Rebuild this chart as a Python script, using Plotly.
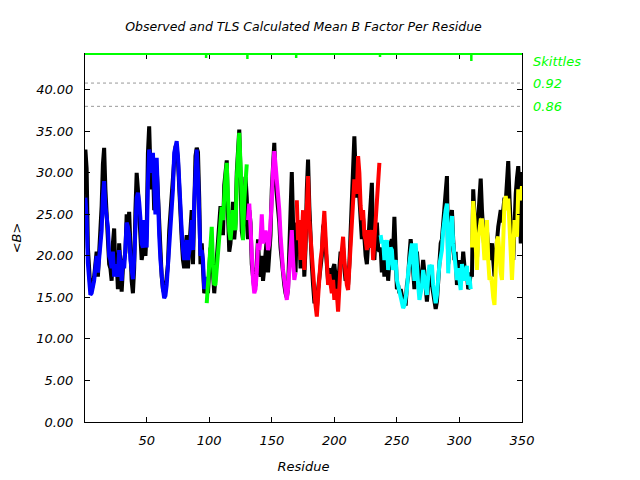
import plotly.graph_objects as go

# ---------------- data ----------------
residues = list(range(1, 351))

observed_b = [
    32.8, 30.5, 21.0, 17.5, 16.0, 15.8, 16.5, 17.5, 19.0, 20.5,
    17.5, 20.0, 22.5, 26.0, 31.0, 33.0, 28.0, 25.0, 22.0, 19.0,
    18.5, 17.0, 21.5, 23.3, 18.0, 19.5, 16.0, 21.5, 19.0, 15.7,
    18.5, 19.5, 20.5, 25.0, 23.0, 25.3, 20.0, 17.0, 15.5, 18.5,
    25.5, 30.0, 28.0, 24.5, 22.5, 19.5, 20.5, 23.5, 20.0, 23.0,
    32.4, 35.6, 30.4, 28.0, 31.0, 25.5, 26.5, 30.5, 27.5, 23.5,
    20.0, 17.5, 16.0, 15.5, 16.0, 17.5, 19.0, 23.0, 25.5, 28.0,
    30.0, 31.5, 33.0, 33.0, 31.5, 27.5, 26.0, 22.0, 19.5, 18.5,
    21.0, 22.5, 18.5, 21.0, 24.0, 25.5, 19.0, 27.5, 32.0, 33.0,
    32.5, 27.0, 19.0, 21.5, 18.5, 15.5, 16.0, 16.5, 15.5, 18.0,
    21.0, 20.5, 17.5, 15.5, 17.5, 20.0, 21.5, 25.0, 26.0, 24.5,
    22.5, 28.5, 30.5, 31.5, 25.0, 20.5, 21.5, 23.5, 26.5, 22.0,
    24.0, 30.0, 33.5, 35.2, 30.0, 23.0, 22.0, 27.5, 29.5, 27.0,
    22.0, 25.5, 24.0, 19.0, 16.5, 16.0, 16.5, 19.0, 22.0, 18.5,
    17.5, 20.0, 17.0, 18.5, 20.5, 22.0, 18.0, 20.5, 22.5, 28.0,
    31.0, 33.6, 29.0, 27.5, 26.0, 24.0, 21.0, 19.0, 17.0, 16.5,
    15.5, 15.0, 16.0, 22.0, 27.5, 30.1, 24.0, 19.5, 18.0, 24.0,
    20.5, 23.0, 18.5, 21.0, 24.0, 17.5, 21.0, 28.0, 31.6, 26.0,
    21.5, 19.0, 16.5, 14.5, 14.5, 13.5, 16.0, 17.5, 18.5, 20.0,
    23.5, 24.0, 21.0, 18.0, 17.0, 18.5, 17.0, 16.5, 18.5, 19.0,
    17.5, 16.0, 16.5, 18.5, 20.5, 19.5, 21.0, 18.5, 17.0, 17.5,
    16.5, 19.0, 23.0, 29.0, 32.8, 34.4, 30.0, 27.0, 29.5, 27.5,
    24.0, 22.0, 24.5, 21.5, 20.0, 19.0, 22.0, 24.5, 26.5, 28.8,
    22.0, 19.5, 22.5, 24.0, 21.0, 20.5, 21.0, 18.0, 20.5, 17.5,
    19.5, 21.0, 17.0, 20.0, 21.5, 22.0, 20.5, 24.7, 18.0, 16.0,
    16.5, 15.5, 16.0, 15.0, 14.5, 15.0, 14.0, 16.5, 17.5, 20.0,
    22.0, 20.5, 18.0, 16.0, 19.0, 20.5, 18.5, 15.5, 16.0, 17.5,
    19.5, 18.0, 15.5, 14.5, 16.5, 18.0, 17.5, 16.5, 15.0, 14.0,
    13.6, 14.5, 17.0, 19.5, 21.5, 22.0, 24.0, 27.0, 28.5, 29.6,
    19.0, 20.5, 24.5, 25.5, 22.0, 19.5, 20.5, 16.5, 17.5, 19.5,
    17.0, 18.0, 20.5, 19.0, 17.0, 18.0, 16.0, 16.5, 18.0, 17.5,
    28.0, 25.0, 22.0, 19.5, 24.5, 27.0, 29.3, 25.5, 22.0, 20.5,
    21.0, 23.0, 21.0, 19.5, 20.5, 21.5, 19.5, 17.5, 20.0, 22.5,
    23.5, 24.5, 25.5, 24.0, 26.5, 27.0, 26.5, 29.0, 31.4, 27.0,
    23.5, 20.5, 19.5, 25.0, 27.5, 29.4, 30.8, 27.5, 21.5, 30.0,
]

# TLS segments (first residue of each segment)
segment_starts = [1, 98, 131, 170, 237, 310]
segment_colors = ["#0000ff", "#00ff00", "#ff00ff", "#ff0000", "#00ffff", "#ffff00"]

tls_blue = [
    27.0, 24.5, 19.1, 16.0, 15.3, 15.5, 16.2, 17.0, 18.5, 20.0,
    18.0, 19.5, 21.5, 23.0, 27.0, 29.0, 26.0, 24.5, 23.5, 20.0,
    19.5, 18.5, 20.5, 17.5, 19.0, 18.3, 17.5, 20.7, 18.0, 17.0,
    19.5, 18.5, 21.0, 24.0, 23.5, 22.5, 19.5, 18.0, 17.2, 19.5,
    24.5, 27.0, 27.6, 26.5, 24.5, 21.5, 21.0, 24.3, 22.0, 21.0,
    29.0, 32.8, 31.5, 30.0, 32.4, 28.5, 25.0, 31.8, 26.0, 22.5,
    19.5, 17.0, 16.0, 14.9, 15.2, 16.5, 18.7, 21.5, 24.0, 26.5,
    28.0, 32.4, 33.5, 33.8, 32.0, 28.0, 25.0, 23.0, 20.7, 19.5,
    20.5, 21.9, 19.5, 20.3, 21.5, 24.3, 20.7, 26.5, 31.0, 32.8,
    30.0, 24.3, 20.0, 20.7, 19.5, 16.0, 17.5,
]
tls_green = [
    14.3, 16.5, 19.5, 22.5, 23.5, 19.0, 16.5, 16.6, 18.5, 20.5,
    22.5, 24.0, 25.9, 24.3, 27.9, 29.5, 31.2, 26.7, 23.0, 21.9,
    24.3, 25.5, 24.0, 23.1, 29.2, 32.4, 34.8, 31.0, 25.0, 21.9,
    26.7, 28.5, 31.0,
]
tls_magenta = [
    24.3, 26.3, 23.5, 19.5, 17.1, 15.5, 16.0, 18.0, 21.5, 20.7,
    22.0, 25.0, 21.5, 22.5, 23.0, 22.5, 20.7, 21.5, 23.5, 26.7,
    30.4, 32.6, 31.0, 29.5, 28.0, 25.5, 22.5, 20.0, 18.3, 17.1,
    15.5, 14.7, 16.0, 18.3, 21.0, 23.1, 19.5, 17.1, 18.0,
]
tls_red = [
    26.7, 21.9, 24.3, 19.5, 22.5, 25.5, 18.3, 22.0, 26.7, 29.6,
    24.3, 22.0, 20.7, 17.1, 14.9, 14.0, 12.7, 15.0, 18.0, 19.5,
    20.7, 24.3, 25.4, 22.3, 19.5, 16.5, 17.8, 16.0, 15.5, 17.1,
    14.7, 16.0, 15.5, 13.3, 17.1, 19.0, 20.7, 22.3, 19.5, 17.8,
    16.5, 15.9, 18.3, 21.5, 24.3, 27.1, 29.2, 28.0, 27.5, 32.0,
    30.0, 26.0, 24.3, 25.5, 22.5, 21.9, 20.7, 23.1, 21.0, 21.9,
    23.1, 19.5, 21.9, 25.0, 26.7, 27.9, 31.2,
]
tls_cyan = [
    22.5, 21.5, 21.9, 19.5, 20.5, 21.9, 18.3, 20.5, 21.0, 20.7,
    18.3, 19.0, 19.5, 17.1, 16.5, 15.9, 15.0, 14.3, 13.7, 14.0,
    14.7, 15.9, 18.0, 19.5, 20.7, 21.5, 19.5, 17.0, 21.5, 18.3,
    16.5, 14.7, 15.5, 16.3, 18.3, 17.5, 16.5, 15.3, 17.5, 18.9,
    18.5, 18.9, 16.5, 15.0, 14.3, 15.3, 17.5, 19.0, 19.8, 20.7,
    23.1, 25.0, 25.5, 26.3, 17.9, 21.5, 23.5, 24.8, 21.5, 20.0,
    19.5, 17.1, 18.5, 17.5, 15.9, 19.0, 17.5, 17.0, 18.0, 18.8,
    16.5, 17.5, 16.0,
]
tls_yellow = [
    21.0, 26.6, 24.3, 21.0, 18.3, 21.9, 23.5, 24.3, 24.3, 20.7,
    19.5, 22.0, 24.3, 19.5, 17.1, 17.5, 16.7, 15.0, 14.1, 18.3,
    21.9, 22.3, 19.5, 18.0, 17.1, 24.3, 26.5, 27.2, 25.5, 26.9,
    23.5, 21.5, 17.1, 20.5, 24.3, 23.5, 22.3, 28.0, 27.5, 26.7,
    28.4,
]
tls_segments = [tls_blue, tls_green, tls_magenta, tls_red, tls_cyan, tls_yellow]

skittle_levels = [40.8, 38.0]
skittle_labels = ["0.92", "0.86"]
skittle_title_level = 43.4

x_ticks = [50, 100, 150, 200, 250, 300, 350]
y_ticks = [0, 5, 10, 15, 20, 25, 30, 35, 40]

# ---------------- figure ----------------
FONT = "DejaVu Sans"
# the page body has an 8px default margin, so the figure is 8px smaller
W, H = 632, 472
fig = go.Figure()

fig.add_trace(go.Scatter(x=residues, y=observed_b, mode="lines",
                         line=dict(color="#000000", width=4),
                         showlegend=False, hoverinfo="skip"))

for start, vals, col in zip(segment_starts, tls_segments, segment_colors):
    xs = list(range(start, start + len(vals)))
    fig.add_trace(go.Scatter(x=xs, y=vals, mode="lines",
                             line=dict(color=col, width=4),
                             showlegend=False, hoverinfo="skip"))

shapes = []
for lvl in skittle_levels:
    shapes.append(dict(type="line", xref="paper", yref="y", x0=0, x1=1, y0=lvl, y1=lvl,
                       line=dict(color="#999999", width=1, dash="dot")))
# green top border
shapes.append(dict(type="line", xref="paper", yref="paper", x0=0, x1=1, y0=1, y1=1,
                   line=dict(color="#00ff00", width=2)))
# green segment boundary marks
tick_px = [3, 4, 3, 2, 6]
for s, px in zip(segment_starts[1:], tick_px):
    shapes.append(dict(type="line", xref="x", yref="paper", x0=s - 0.5, x1=s - 0.5,
                       y0=1, y1=1 - (px + 1) / 368.0,
                       line=dict(color="#00ff00", width=2.5)))

annotations = []
annotations.append(dict(text="Skittles", xref="paper", yref="y", x=1, y=skittle_title_level,
                        xanchor="left", yanchor="middle", xshift=9, showarrow=False,
                        font=dict(family=FONT, size=13, color="#00ff00", style="italic")))
for lvl, lab in zip(skittle_levels, skittle_labels):
    annotations.append(dict(text=lab, xref="paper", yref="y", x=1, y=lvl,
                            xanchor="left", yanchor="middle", xshift=9, showarrow=False,
                            font=dict(family=FONT, size=13, color="#00ff00", style="italic")))

fig.update_layout(
    width=W, height=H,
    margin=dict(l=77, r=118, t=46, b=58, autoexpand=False),
    paper_bgcolor="white", plot_bgcolor="white",
    title=dict(text="Observed and TLS Calculated Mean B Factor Per Residue",
               xref="paper", x=0.5, xanchor="center",
               yref="container", y=1 - 19 / H, yanchor="middle",
               font=dict(family=FONT, size=12.5, color="#000000", style="italic")),
    shapes=shapes, annotations=annotations,
    font=dict(family=FONT, color="#000000"),
)

fig.update_xaxes(range=[0.7, 350], tickvals=x_ticks, ticks="inside", ticklen=5,
                 tickcolor="#000000", showline=True, linecolor="#000000", linewidth=1,
                 mirror="ticks", showgrid=False, zeroline=False, automargin=False,
                 tickfont=dict(family=FONT, size=13, style="italic"),
                 ticklabelstandoff=6,
                 title=dict(text="Residue", standoff=15,
                            font=dict(family=FONT, size=13, style="italic")))
fig.update_yaxes(range=[0, 44.3], tickvals=y_ticks, tickformat=".2f", ticks="inside",
                 ticklen=5, tickcolor="#000000", showline=True, linecolor="#000000",
                 linewidth=1, mirror="ticks", showgrid=False, zeroline=False,
                 automargin=False,
                 tickfont=dict(family=FONT, size=13, style="italic"),
                 ticklabelstandoff=8,
                 title=dict(text="&lt;B&gt;", standoff=11,
                            font=dict(family=FONT, size=13, style="italic")))

fig.write_html("out.html")
